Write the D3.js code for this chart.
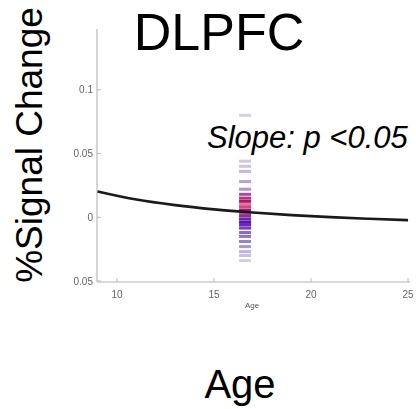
<!DOCTYPE html>
<meta charset="utf-8">
<style>
body { margin: 0; background: #fff; }
text { font-family: "Liberation Sans", Arial, sans-serif; }
.tick-lab { fill: #666; font-size: 10px; }
</style>
<body>
<script src="https://d3js.org/d3.v7.min.js"></script>
<script>

// fitted curve
var curveAge = [9, 11, 13, 15, 17, 19, 21, 23, 25];
var curveVal = [0.0203, 0.0139, 0.0095, 0.0062, 0.0037, 0.0017, 0.0001, -0.0012, -0.0023];

// the column of subject values (all at one age)
var pointAge = 16.6;
var pointVal = [0.080, 0.044, 0.040, 0.036, 0.028, 0.022, 0.018, 0.015, 0.0125, 0.010, 0.008,
                0.0055, 0.003, 0.001, -0.0015, -0.004, -0.006, -0.0085, -0.012, -0.015,
                -0.019, -0.023, -0.027, -0.030, -0.034];
var pointCol = ["#d6d0e0", "#d0c8dc", "#cdc4dc", "#c4b8dc", "#b8a0d0", "#b094cc", "#b04a98", "#c03080", "#b01868",
                "#e07898", "#d04888", "#a01870", "#c84890", "#8a2aa0", "#6a20b0", "#5a18a8", "#6a28b8", "#7a40c0",
                "#8868c8", "#9070d0", "#9480d4", "#a898da", "#bcb4de", "#cac2e0", "#d4cee4"];

var xTicks = [10, 15, 20, 25];
var yTicks = [-0.05, 0, 0.05, 0.1];

var width = 416, height = 409;

var svg = d3.select("body").append("svg")
    .attr("width", width)
    .attr("height", height);

var defs = svg.append("defs");
defs.append("filter").attr("id", "soft")
  .append("feGaussianBlur").attr("stdDeviation", 0.35);
defs.append("clipPath").attr("id", "labclip")
  .append("rect").attr("x", 74).attr("y", 0).attr("width", 40).attr("height", 300);

var x = d3.scaleLinear().domain([8.97, 25.1]).range([97, 410]);
var y = d3.scaleLinear().domain([-0.05, 0.1477]).range([281, 29]);

// axes lines (light grey, matlab style)
svg.append("line")
    .attr("x1", 97).attr("x2", 97)
    .attr("y1", y(0.1477)).attr("y2", 282)
    .attr("stroke", "#ccc").attr("stroke-width", 1.6);
svg.append("line")
    .attr("x1", 97).attr("x2", 410)
    .attr("y1", 282).attr("y2", 282)
    .attr("stroke", "#ccc").attr("stroke-width", 1.6);

// y ticks
svg.selectAll("line.yt")
    .data(yTicks)
  .enter().append("line")
    .attr("class", "yt")
    .attr("x1", 97).attr("x2", 101)
    .attr("y1", function(d) { return y(d); })
    .attr("y2", function(d) { return y(d); })
    .attr("stroke", "#bbb");

svg.append("g").attr("clip-path", "url(#labclip)")
  .selectAll("text")
    .data(yTicks)
  .enter().append("text")
    .attr("class", "tick-lab")
    .attr("filter", "url(#soft)")
    .attr("text-anchor", "end")
    .attr("x", 93)
    .attr("y", function(d) { return y(d) + 3.5; })
    .text(function(d) { return d3.format("")(d); });

// x ticks
svg.selectAll("line.xt")
    .data(xTicks)
  .enter().append("line")
    .attr("class", "xt")
    .attr("x1", function(d) { return x(d); })
    .attr("x2", function(d) { return x(d); })
    .attr("y1", 282).attr("y2", 278)
    .attr("stroke", "#bbb");

svg.selectAll("text.xl")
    .data(xTicks)
  .enter().append("text")
    .attr("class", "tick-lab xl")
    .attr("filter", "url(#soft)")
    .attr("text-anchor", "middle")
    .attr("x", function(d) { return x(d); })
    .attr("y", 298)
    .text(function(d) { return d; });

svg.append("text")
    .attr("x", 252).attr("y", 308)
    .attr("text-anchor", "middle")
    .attr("filter", "url(#soft)")
    .style("font-size", "8px")
    .style("fill", "#555")
    .text("Age");

// subject values: short horizontal dashes
svg.selectAll("rect.pt")
    .data(pointVal)
  .enter().append("rect")
    .attr("class", "pt")
    .attr("x", x(pointAge) - 6)
    .attr("y", function(d) { return y(d) - 1.5; })
    .attr("width", 12)
    .attr("height", 3)
    .attr("fill", function(d, i) { return pointCol[i]; });

// fit curve
var line = d3.line()
    .x(function(d, i) { return x(curveAge[i]); })
    .y(function(d) { return y(d); })
    .curve(d3.curveMonotoneX);

svg.append("path")
    .datum(curveVal)
    .attr("d", line)
    .attr("fill", "none")
    .attr("stroke", "#1a1a1a")
    .attr("stroke-width", 2.6);

// big labels
svg.append("text")
    .attr("x", 219).attr("y", 50)
    .attr("text-anchor", "middle")
    .style("font-size", "52px")
    .text("DLPFC");

svg.append("text")
    .attr("x", 207).attr("y", 148)
    .style("font-size", "31px")
    .style("font-style", "italic")
    .text("Slope: p <0.05");

svg.append("text")
    .attr("transform", "translate(42,145) rotate(-90)")
    .attr("text-anchor", "middle")
    .style("font-size", "37px")
    .text("%Signal Change");

svg.append("text")
    .attr("x", 240).attr("y", 398)
    .attr("text-anchor", "middle")
    .style("font-size", "40px")
    .text("Age");

</script>
</body>
